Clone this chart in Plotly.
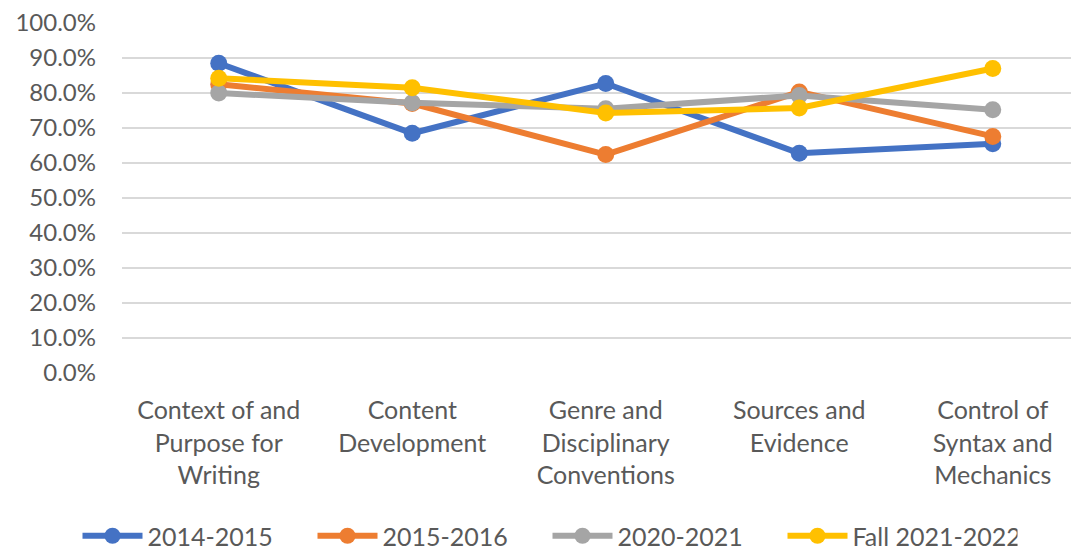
import plotly.graph_objects as go

categories = ["Context of and<br>Purpose for<br>Writing", "Content<br>Development",
              "Genre and<br>Disciplinary<br>Conventions", "Sources and<br>Evidence",
              "Control of<br>Syntax and<br>Mechanics"]
s2014_2015 = [0.885, 0.685, 0.827, 0.628, 0.655]
s2015_2016 = [0.825, 0.770, 0.624, 0.803, 0.676]
s2020_2021 = [0.800, 0.772, 0.755, 0.793, 0.752]
sFall_2021_2022 = [0.842, 0.815, 0.743, 0.757, 0.870]
series_names = ["2014-2015", "2015-2016", "2020-2021", "Fall 2021-2022"]
colors = ["#4472C4", "#ED7D31", "#A5A5A5", "#FFC000"]
y_ticks = [0, 0.1, 0.2, 0.3, 0.4, 0.5, 0.6, 0.7, 0.8, 0.9, 1.0]

fig = go.Figure()
xs = list(range(len(categories)))
for name, vals, col in zip(series_names, [s2014_2015, s2015_2016, s2020_2021, sFall_2021_2022], colors):
    fig.add_trace(go.Scatter(x=xs, y=vals, name=name, mode="lines+markers",
                             line=dict(color=col, width=6),
                             marker=dict(color=col, size=17)))

font_fam = "Lato, Open Sans, sans-serif"
fig.update_layout(
    width=1079, height=550,
    margin=dict(l=114, r=0, t=15, b=185, autoexpand=False),
    paper_bgcolor="white", plot_bgcolor="white",
    font=dict(family=font_fam, size=25, color="#595959"),
    showlegend=True,
    legend=dict(orientation="h", x=0.5, xanchor="center", xref="container",
                y=0.04, yanchor="middle", yref="container",
                font=dict(size=25, color="#595959"), itemwidth=60, entrywidth=160,
                traceorder="normal"),
    xaxis=dict(range=[-0.5, 4.487], tickvals=xs, ticktext=categories,
               showgrid=False, zeroline=False, showline=False, ticks="",
               automargin=False, ticklabelstandoff=20,
               tickfont=dict(size=25, color="#595959")),
    yaxis=dict(range=[0, 1.0], tickvals=y_ticks,
               ticktext=[f"{v*100:.1f}%" for v in y_ticks],
               showgrid=True, gridcolor="#D9D9D9", gridwidth=1.5,
               zeroline=False, showline=False, ticks="",
               automargin=False, ticklabelstandoff=25,
               ticklabeloverflow="allow",
               tickfont=dict(size=24, color="#595959")),
)
fig.write_html("out.html")
